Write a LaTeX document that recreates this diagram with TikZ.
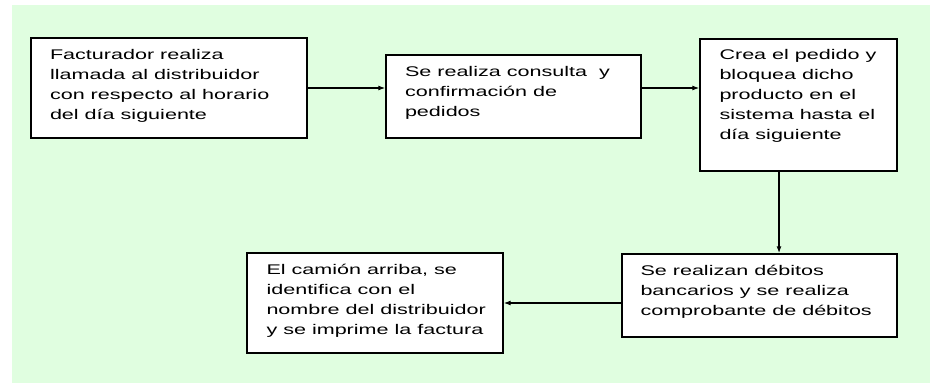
\documentclass[tikz,border=0pt]{standalone}
\usepackage{fontspec}
\setmainfont{Liberation Sans}[FakeStretch=1.54]
\usetikzlibrary{arrows.meta}
\definecolor{bggreen}{RGB}{224,254,224}
\tikzset{
  box/.style={draw=black, line width=1.4pt, fill=white, rectangle, inner sep=0pt},
  txt/.style={anchor=north west, inner sep=0pt, align=left,
    font=\fontsize{14}{20}\selectfont},
  conn/.style={line width=1.1pt, -{Latex[length=7pt,width=5pt]}},
}
\newcommand{\fl}{\rule{0pt}{11pt}}
\begin{document}
\begin{tikzpicture}[x=1pt,y=-1pt]
\useasboundingbox (0,0) rectangle (930,383);
\fill[bggreen] (12,5) rectangle (930,383);

\node[box, minimum width=276pt, minimum height=100pt] (b1) at (169,88) {};
\node[box, minimum width=255pt, minimum height=83pt] (b2) at (513.5,96.5) {};
\node[box, minimum width=197pt, minimum height=132pt] (b3) at (798.5,105) {};
\node[box, minimum width=275pt, minimum height=83pt] (b4) at (759.5,295.5) {};
\node[box, minimum width=256pt, minimum height=100pt] (b5) at (375,303) {};

\node[txt] (t1) at ([xshift=19.5pt,yshift=-11pt]b1.north west)
  {\fl Facturador realiza\\llamada al distribuidor\\con respecto al horario\\del día siguiente};
\node[txt] (t2) at ([xshift=19.5pt,yshift=-11pt]b2.north west)
  {\fl Se realiza consulta~ y\\confirmación de\\pedidos};
\node[txt] (t3) at ([xshift=20pt,yshift=-10pt]b3.north west)
  {\fl Crea el pedido y\\bloquea dicho\\producto en el\\sistema hasta el\\día siguiente};
\node[txt] (t4) at ([xshift=19pt,yshift=-10.5pt]b4.north west)
  {\fl Se realizan débitos\\bancarios y se realiza\\comprobante de débitos};
\node[txt] (t5) at ([xshift=20pt,yshift=-11pt]b5.north west)
  {\fl El camión arriba, se\\identifica con el\\nombre del distribuidor\\y se imprime la factura};

\coordinate (vx) at (779,0);
\draw[conn] (b1.east) -- (b1.east -| b2.west);
\draw[conn] (b1.east -| b2.east) -- (b1.east -| b3.west);
\draw[conn, line width=1.6pt] (vx |- b3.south) -- (vx |- b4.north);
\draw[conn] (b5.east -| b4.west) -- (b5.east);
\end{tikzpicture}
\end{document}
